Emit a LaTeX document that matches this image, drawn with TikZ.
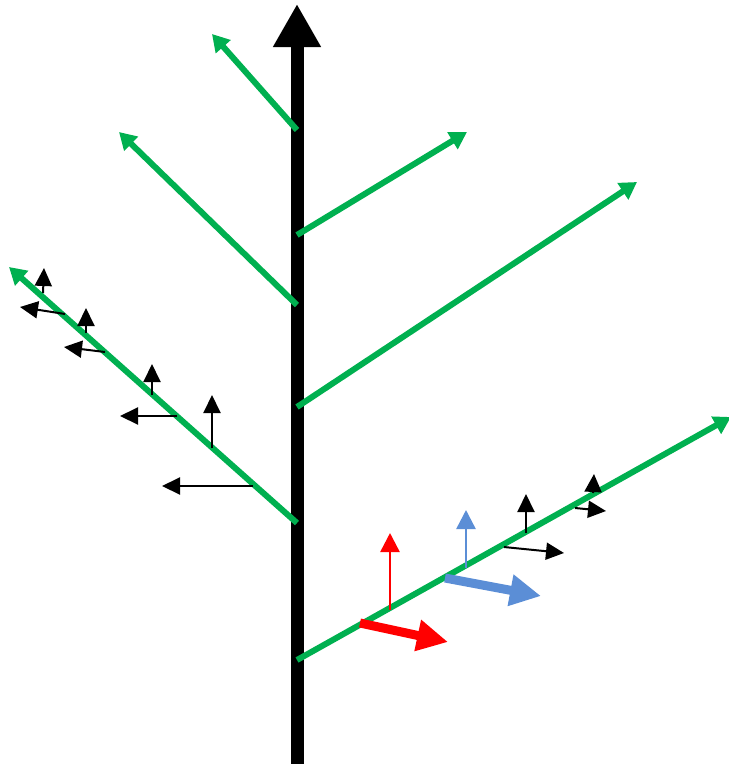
\documentclass[tikz,border=0pt]{standalone}
\usetikzlibrary{arrows.meta}
\definecolor{gr}{HTML}{00B050}
\definecolor{bl}{HTML}{5B8ED6}
\definecolor{rd}{HTML}{FF0000}
\tikzset{
  trunk/.style={line width=13pt,-{Triangle[width=45pt,length=43pt]}},
  branch/.style={gr,line width=6pt,-{Triangle[width=19pt,length=17pt]}},
  small/.style={black,line width=2pt,-{Triangle[width=17pt,length=18pt]}},
  thin/.style={line width=2.5pt,-{Triangle[width=19pt,length=19pt]}},
  thick/.style={line width=9pt,-{Triangle[width=30pt,length=31pt]}}
}
\begin{document}
\begin{tikzpicture}[x=1pt,y=-1pt]
\useasboundingbox (0,0) rectangle (729,764);
% trunk
\coordinate (tb) at (297,764);
\coordinate (tt) at (297,4);
\draw[trunk] (tb) -- (tt);
% branches
\coordinate (b1s) at (297,130); \coordinate (b1e) at (212,34);
\coordinate (b2s) at (297,235); \coordinate (b2e) at (467,132);
\coordinate (b3s) at (297,305); \coordinate (b3e) at (119,132);
\coordinate (b4s) at (297,407); \coordinate (b4e) at (637,182);
\coordinate (b5s) at (297,523); \coordinate (b5e) at (9,267);
\coordinate (b6s) at (297,660); \coordinate (b6e) at (731,417);
\foreach \i in {1,...,6} \draw[branch] (b\i s) -- (b\i e);
% left branch small arrows
\coordinate (l1s) at (253,486); \coordinate (l1e) at (162,486);
\coordinate (l2s) at (212,448); \coordinate (l2e) at (212,395);
\coordinate (l3s) at (177,416); \coordinate (l3e) at (120,416);
\coordinate (l4s) at (152,395); \coordinate (l4e) at (152,364);
\coordinate (l5s) at (105,352); \coordinate (l5e) at (64,347);
\coordinate (l6s) at (86,333);  \coordinate (l6e) at (86,308);
\coordinate (l7s) at (65,314);  \coordinate (l7e) at (20,307);
\coordinate (l8s) at (43,293);  \coordinate (l8e) at (44,268);
\foreach \i in {1,...,8} \draw[small] (l\i s) -- (l\i e);
% right branch arrows
\coordinate (r1s) at (360,623); \coordinate (r1e) at (448,642);
\coordinate (r2s) at (390,610); \coordinate (r2e) at (390,533);
\coordinate (u1s) at (445,578); \coordinate (u1e) at (541,596);
\coordinate (u2s) at (466,568); \coordinate (u2e) at (466,510);
\draw[rd,thick] (r1s) -- (r1e);
\draw[rd,thin] (r2s) -- (r2e);
\draw[bl,thick] (u1s) -- (u1e);
\draw[bl,thin] (u2s) -- (u2e);
\coordinate (k1s) at (526,533); \coordinate (k1e) at (526,494);
\coordinate (k2s) at (504,547); \coordinate (k2e) at (564,553);
\coordinate (k3s) at (593,493); \coordinate (k3e) at (594,474);
\coordinate (k4s) at (575,508); \coordinate (k4e) at (606,511);
\foreach \i in {1,...,4} \draw[small] (k\i s) -- (k\i e);
\end{tikzpicture}
\end{document}
